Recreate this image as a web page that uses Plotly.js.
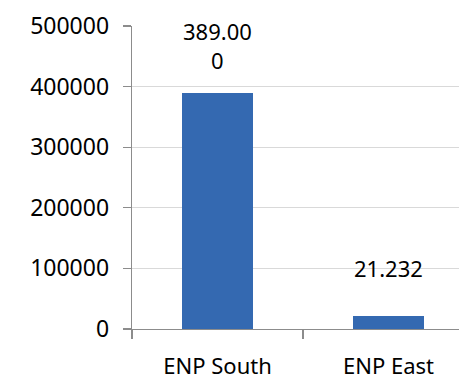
<!DOCTYPE html>
<html>
<head>
<meta charset="utf-8">
<script src="https://cdn.plot.ly/plotly-3.0.1.min.js"></script>
<style>html,body{margin:0;padding:0;background:#fff;}#chart{width:459px;height:381px;}</style>
</head>
<body>
<div id="chart"></div>
<script>
const categories = ["ENP South", "ENP East"];
const values = [389000, 21232];
const labels = ["389.00<br>0", "21.232"];
const yTicks = [0, 100000, 200000, 300000, 400000, 500000];

const FONT = "Noto Sans, Open Sans, sans-serif";

const trace = {
  type: "bar",
  x: categories,
  y: values,
  width: 0.41,
  marker: { color: "#3469b1", line: { width: 0 } },
  hoverinfo: "none"
};

const annotations = categories.map((c, i) => ({
  x: c, y: values[i], xref: "x", yref: "y",
  text: labels[i], showarrow: false,
  yanchor: "middle", yshift: 48,
  font: { family: FONT, size: 22, color: "#000" }
}));

const layout = {
  width: 459, height: 381,
  margin: { l: 132, r: 0, t: 26, b: 52, pad: 0 },
  paper_bgcolor: "#fff", plot_bgcolor: "#fff",
  showlegend: false,
  bargap: 0,
  xaxis: {
    type: "category",
    range: [-0.5, 1.412],
    showgrid: false,
    showline: true, linecolor: "#8c8c8c", linewidth: 1.3,
    ticks: "outside", tickson: "boundaries", ticklen: 9, tickcolor: "#8c8c8c", tickwidth: 1.3,
    ticklabelstandoff: 17,
    tickfont: { family: FONT, size: 22, color: "#000" },
    zeroline: false, fixedrange: true
  },
  yaxis: {
    range: [0, 500000],
    tickvals: yTicks,
    ticktext: yTicks.map(String),
    showgrid: true, gridcolor: "#d9d9d9", gridwidth: 1.3,
    showline: true, linecolor: "#8c8c8c", linewidth: 1.3,
    ticks: "outside", ticklen: 8, tickcolor: "#8c8c8c", tickwidth: 1.3,
    ticklabelstandoff: 9,
    tickfont: { family: FONT, size: 23, color: "#000" },
    zeroline: false, fixedrange: true
  },
  annotations: annotations
};

Plotly.newPlot("chart", [trace], layout, { displayModeBar: false, staticPlot: true });
</script>
</body>
</html>
